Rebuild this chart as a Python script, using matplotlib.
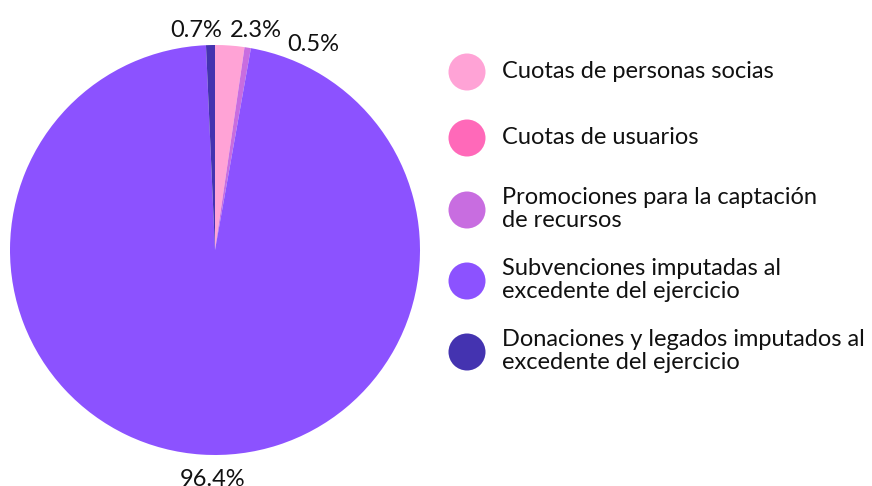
import matplotlib
matplotlib.use("Agg")
import matplotlib.pyplot as plt
import numpy as np

plt.rcParams['font.family'] = ['Lato', 'DejaVu Sans']

categories = ["Cuotas de personas socias", "Cuotas de usuarios",
              "Promociones para la captación\nde recursos",
              "Subvenciones imputadas al\nexcedente del ejercicio",
              "Donaciones y legados imputados al\nexcedente del ejercicio"]
values = [2.3, 0.0, 0.5, 96.4, 0.7]
colors = ["#FFA3D6", "#FF69B9", "#C86DE0", "#8C52FF", "#4433B0"]

W, H = 872, 486
fig = plt.figure(figsize=(W / 100, H / 100), dpi=100)
cx, cy, r = 215, 250, 205
ax = fig.add_axes([(cx - r) / W, (H - cy - r) / H, 2 * r / W, 2 * r / H])
wedges, _ = ax.pie(values, colors=colors, startangle=90, counterclock=False,
                   radius=1.0, wedgeprops=dict(linewidth=0))
ax.set_xlim(-1, 1)
ax.set_ylim(-1, 1)
ax.set_aspect('auto')
ax.axis('off')

# label placement tweaks (style only)
offsets = {0: (-0.006, -0.014, 'left'), 2: (0.177, -0.076, 'left'),
           3: (0.058, -0.034, 'center'), 4: (0.058, -0.017, 'right')}
for i, (w, v) in enumerate(zip(wedges, values)):
    if v <= 0:
        continue
    ang = np.deg2rad((w.theta1 + w.theta2) / 2)
    d = 1.09
    x, y = d * np.cos(ang), d * np.sin(ang)
    dx, dy, ha = offsets.get(i, (0, 0, 'center'))
    ax.text(x + dx, y + dy, f"{v:.1f}%", ha=ha, va='center',
            fontsize=17, color='#111111', clip_on=False)

ys = [72, 138, 210, 281, 352]
for lab, col, yy in zip(categories, colors, ys):
    fig.patches.append(matplotlib.patches.Ellipse((467 / W, 1 - yy / H), 37 / W, 37 / H,
                                                  transform=fig.transFigure,
                                                  facecolor=col, edgecolor='none'))
    fig.text(502 / W, 1 - (yy - 1) / H, lab, ha='left', va='center', fontsize=17,
             color='#111111', linespacing=1.1)

fig.savefig("out.png", dpi=100)
